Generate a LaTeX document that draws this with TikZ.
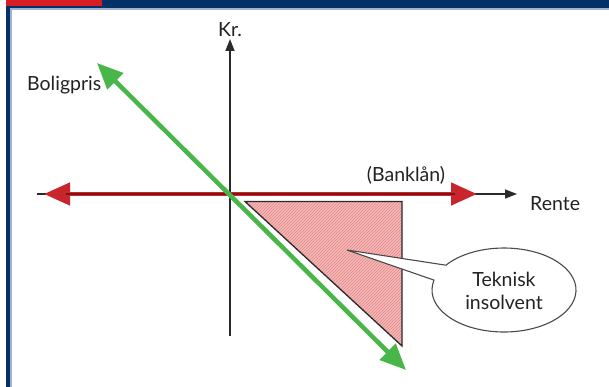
\documentclass[tikz,border=0pt]{standalone}
\usepackage{fontspec}
\setmainfont{Lato}
\usetikzlibrary{arrows.meta,patterns}
\definecolor{navy}{HTML}{023067}
\definecolor{barred}{HTML}{D81E25}
\definecolor{paleline}{HTML}{9FB3CF}
\definecolor{lnred}{HTML}{C8262C}
\definecolor{lnredcore}{HTML}{7E1515}
\definecolor{lngreen}{HTML}{48B648}
\definecolor{pinkfill}{HTML}{F4B9B7}
\definecolor{hatch}{HTML}{E7878A}
\definecolor{txt}{HTML}{222222}
\definecolor{axisgray}{HTML}{2A2A2A}
\tikzset{
  lbl/.style={font=\fontsize{19.5}{23}\selectfont, text=txt, inner sep=0pt},
  axisline/.style={draw=axisgray, line width=1.6pt},
  redline/.style={draw=lnred, line width=4.5pt},
  greenline/.style={draw=lngreen, line width=4.5pt},
  bigtips/.style={{Triangle[length=26pt,width=22pt]}-{Triangle[length=26pt,width=22pt]}},
}
\begin{document}
\begin{tikzpicture}[x=1pt,y=-1pt]
\useasboundingbox (0,0) rectangle (609,387);
\fill[white] (0,0) rectangle (609,387);
% frame
\fill[navy] (6,0) rectangle (609,8.5);
\fill[paleline] (10,8.5) rectangle (609,10);
\fill[navy] (6,0) rectangle (10,387);
\fill[paleline] (10,8.5) rectangle (11.5,387);
\fill[barred] (6,0) rectangle (102,6);
% coordinates
\coordinate (vbot) at (230,336);
\coordinate (vtop) at (230,39);
\coordinate (hleft) at (37,194);
\coordinate (hright) at (517,194);
\coordinate (rleft) at (44,194);
\coordinate (rright) at (477,194);
\coordinate (gtop) at (97,63);
\coordinate (gbot) at (406,370);
\coordinate (t1) at (245,201.5);
\coordinate (t2) at (402,201.5);
\coordinate (t3) at (402,346);
% triangle
\fill[pinkfill] (t1) -- (t2) -- (t3) -- cycle;
\fill[pattern=north east lines, pattern color=hatch] (t1) -- (t2) -- (t3) -- cycle;
\draw[draw=axisgray, line width=1.3pt, line join=miter] (t1) -- (t2) -- (t3) -- cycle;
% axes
\draw[axisline, -{Triangle[length=12pt,width=9pt]}] (vbot) -- (vtop);
\draw[axisline, -{Triangle[length=12pt,width=9pt]}] (hleft) -- (hright);
% red line
\draw[redline, bigtips, fill=lnred] (rleft) -- (rright);
\draw[draw=lnredcore, line width=1.3pt] (66,194) -- (455,194);
% green line
\draw[greenline, bigtips, fill=lngreen] (gtop) -- (gbot);
% callout
\coordinate (ctr) at (504,290);
\coordinate (ptip) at (347,250);
\path (ctr) ++(216.2:72 and 42) coordinate (pa);
\path (ctr) ++(193.6:72 and 42) coordinate (pb);
\draw[draw=axisgray!85, line width=1.1pt, fill=white]
  (pa) -- (ptip) -- (pb)
  arc[start angle=193.6, end angle=-143.8, x radius=72, y radius=42] -- cycle;
\node[lbl, align=center] (callout) at (504,291) {Teknisk\\insolvent};
% labels
\node[lbl, anchor=base] (kr) at (230,37) {Kr.};
\node[lbl, anchor=base west] (bolig) at (27,91) {Boligpris};
\node[lbl, anchor=base] (bank) at (406,182) {(Banklån)};
\node[lbl, anchor=base west] (rente) at (530,210) {Rente};
\end{tikzpicture}
\end{document}
